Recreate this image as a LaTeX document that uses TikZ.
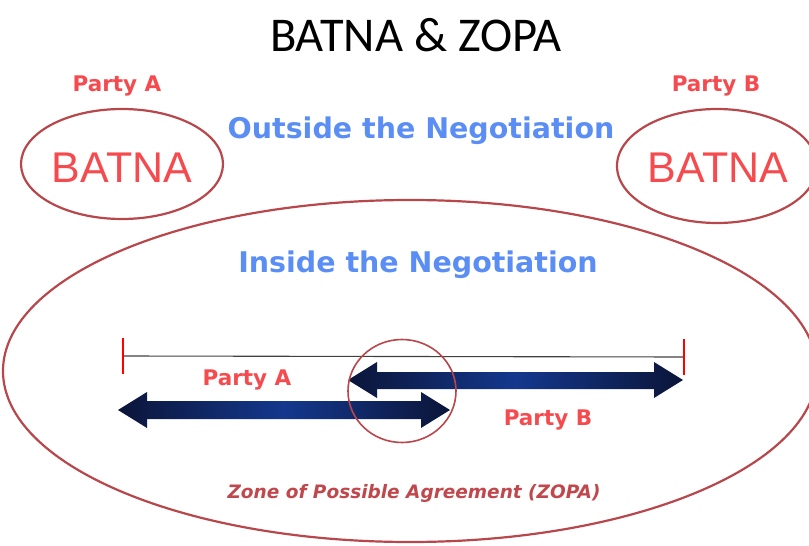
\documentclass[tikz,border=0pt]{standalone}
\usepackage{fontspec}
\setmainfont{DejaVu Sans}
\newfontfamily\titlefont{Carlito}
\newfontfamily\arialfont{Liberation Sans}
\usetikzlibrary{shapes.geometric}
\definecolor{partyred}{HTML}{F54B4F}
\definecolor{ringred}{HTML}{B8474B}
\definecolor{zopared}{HTML}{C0484C}
\definecolor{negblue}{HTML}{5B8EF5}
\definecolor{navydark}{HTML}{0B1538}
\definecolor{navymid}{HTML}{14388E}
\tikzset{
  ring/.style={draw=ringred, line width=2.2pt, ellipse, inner sep=0pt},
  partylabel/.style={text=partyred, font=\bfseries\fontsize{21.5}{25}\selectfont},
  batnatext/.style={text=partyred, font=\arialfont\fontsize{43}{50}\selectfont},
  negtext/.style={text=negblue, font=\bfseries\fontsize{28.5}{32}\selectfont},
  dblarrow/.style={left color=navydark, right color=navydark, middle color=navymid, draw=none},
}
\begin{document}
\begin{tikzpicture}[x=1pt,y=-1pt]
\useasboundingbox (0,0) rectangle (809,546);
% title
\node (title) at (416,35) {\titlefont\fontsize{48.5}{52}\selectfont BATNA \& ZOPA};
% outside ellipses
\node[ring, minimum width=202pt, minimum height=110pt] (ringA) at (122,164) {};
\node[batnatext] (batnaA) at (122,168) {BATNA};
\node[partylabel] (labA) at (117,86) {Party A};
\node[ring, minimum width=200pt, minimum height=114pt] (ringB) at (717,166) {};
\node[batnatext] (batnaB) at (718,168) {BATNA};
\node[partylabel] (labB) at (716,86) {Party B};
\node[negtext] (outside) at (421,131) {Outside the Negotiation};
% big ellipse
\node[ring, minimum width=814pt, minimum height=342pt] (big) at (410,371) {};
\node[negtext] (inside) at (418,265) {Inside the Negotiation};
% scale line
\coordinate (L) at (123,356);
\coordinate (R) at (684,357);
\draw[line width=1.1pt, black!75] (L) -- (R);
\draw[red, line width=2.6pt] ([yshift=-18pt]L) -- ([yshift=18pt]L);
\draw[red, line width=2.6pt] ([yshift=-18pt]R) -- ([yshift=18pt]R);
% arrows
\path[dblarrow] (348,380) -- (377,362) -- (377,372) -- (654,372) -- (654,362) -- (683,380)
  -- (654,398) -- (654,389) -- (377,389) -- (377,398) -- cycle;
\path[dblarrow] (118,410) -- (147,392) -- (147,401) -- (421,401) -- (421,392) -- (450,410)
  -- (421,428) -- (421,419) -- (147,419) -- (147,428) -- cycle;
% small zopa circle
\node[ring, line width=1.6pt, minimum width=108pt, minimum height=103pt] (zone) at (402,391) {};
\node[partylabel] (pA) at (247,380) {Party A};
\node[partylabel] (pB) at (548,420) {Party B};
\node[text=zopared, font=\bfseries\itshape\fontsize{18.5}{22}\selectfont] (zopa) at (414,493) {Zone of Possible Agreement (ZOPA)};
\end{tikzpicture}
\end{document}
